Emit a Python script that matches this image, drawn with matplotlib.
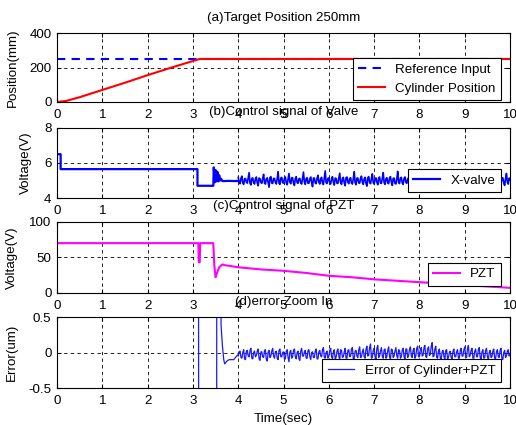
import numpy as np
from matplotlib import pyplot as plt

plt.rcParams['font.family'] = ['Liberation Sans', 'DejaVu Sans']
plt.rcParams['font.size'] = 9.6

# (a) position
pos_t = [0, 0.2, 0.5, 1, 1.5, 2, 2.5, 3, 3.15, 10]
pos_y = [0, 6, 28, 70, 112, 156, 198, 238, 250, 250]
ref_t = [0, 10]
ref_y = [250, 250]

# (b) valve signal, step part then noisy part
valve_t0 = [0, 0.08, 0.08, 3.1, 3.1, 3.45, 3.46, 3.48, 3.5, 3.52, 3.54, 3.56, 3.58,
            3.6, 3.62, 3.65, 3.7, 3.8, 3.9, 4.0]
valve_y0 = [6.5, 6.5, 5.65, 5.65, 4.7, 4.7, 5.75, 4.9, 5.6, 4.95, 5.5, 4.95, 5.3,
            5.0, 5.1, 4.97, 4.97, 4.98, 4.97, 4.97]
valve_noise = [
    5.18, 4.82, 5.25, 4.78, 5.12, 4.85, 5.45, 4.75, 5.15, 4.80,
    5.20, 4.70, 5.10, 4.84, 5.35, 4.80, 5.15, 4.62, 5.22, 4.83,
    5.12, 4.80, 5.50, 4.78, 5.18, 4.85, 5.20, 4.76, 5.40, 4.82,
    5.15, 4.72, 5.22, 4.84, 5.12, 4.80, 5.48, 4.78, 5.16, 4.85,
    5.20, 4.65, 5.14, 4.82, 5.30, 4.80, 5.18, 4.77, 5.55, 4.83,
    5.15, 4.80, 5.22, 4.74, 5.12, 4.84, 5.42, 4.78, 5.18, 4.70,
    5.20, 4.82, 5.16, 4.80, 5.50, 4.76, 5.14, 4.84, 5.25, 4.78,
    5.18, 4.68, 5.22, 4.82, 5.38, 4.80, 5.15, 4.76, 5.20, 4.84,
    5.45, 4.78, 5.16, 4.82, 5.22, 4.72, 5.14, 4.80, 5.52, 4.83,
    5.18, 4.78, 5.20, 4.84, 5.15, 4.66, 5.40, 4.80, 5.22, 4.82,
    5.16, 4.78, 5.48, 4.84, 5.20, 4.76, 5.15, 4.82, 5.35, 4.74,
    5.22, 4.80, 5.18, 4.84, 5.55, 4.78, 5.16, 4.70, 5.20, 4.82,
    5.42, 4.80, 5.15, 4.84, 5.22, 4.76, 5.18, 4.82, 5.50, 4.78,
    5.20, 4.68, 5.16, 4.84, 5.38, 4.80, 5.22, 4.82, 5.15, 4.76,
    5.45, 4.82, 5.18, 4.78, 5.22, 4.84, 5.16, 4.72, 5.40, 4.80,
    5.05]
# samples between the ones above
valve_mid = [
    4.88, 5.12, 4.86, 5.10, 4.90, 5.14, 4.84, 5.12, 4.88, 5.10,
    4.86, 5.14, 4.90, 5.12, 4.85, 5.10, 4.88, 5.16, 4.86, 5.12,
    4.90, 5.10, 4.84, 5.14, 4.88, 5.12, 4.86, 5.10, 4.90, 5.16,
    4.85, 5.12, 4.88, 5.10, 4.86, 5.14, 4.90, 5.12, 4.84, 5.10,
    4.88, 5.14, 4.86, 5.12, 4.90, 5.10, 4.85, 5.16, 4.88, 5.12,
    4.86, 5.10, 4.90, 5.14, 4.84, 5.12, 4.88, 5.10, 4.86, 5.16,
    4.90, 5.12, 4.85, 5.10, 4.88, 5.14, 4.86, 5.12, 4.90, 5.10,
    4.84, 5.16, 4.88, 5.12, 4.86, 5.10, 4.90, 5.14, 4.85, 5.12,
    4.88, 5.10, 4.86, 5.16, 4.90, 5.12, 4.84, 5.10, 4.88, 5.14,
    4.86, 5.12, 4.90, 5.10, 4.85, 5.16, 4.88, 5.12, 4.86, 5.10,
    4.90, 5.14, 4.84, 5.12, 4.88, 5.10, 4.86, 5.16, 4.90, 5.12,
    4.85, 5.10, 4.88, 5.14, 4.86, 5.12, 4.90, 5.10, 4.84, 5.16,
    4.88, 5.12, 4.86, 5.10, 4.90, 5.14, 4.85, 5.12, 4.88, 5.10,
    4.86, 5.16, 4.90, 5.12, 4.84, 5.10, 4.88, 5.14, 4.86, 5.12,
    4.90, 5.10, 4.85, 5.16, 4.88, 5.12, 4.86, 5.10, 4.90, 5.14]

# (c) PZT signal
pzt_t = [0, 3.12, 3.13, 3.15, 3.16, 3.45, 3.47, 3.5, 3.53, 3.58, 3.65, 3.7,
         4, 4.5, 5, 5.5, 6, 6.5, 7, 7.5, 8, 8.5, 9, 9.5, 10]
pzt_y = [70, 70, 43, 43, 70, 70, 40, 22, 28, 36, 40, 39,
         36, 33, 31, 28, 24, 22, 19, 17, 15, 13, 11, 9, 7]

# (d) error, transient then noisy part
err_t0 = [0, 3.12, 3.13, 3.52, 3.53, 3.6, 3.62, 3.65, 3.68, 3.7, 3.75, 3.8, 3.9, 3.95, 4.0]
err_y0 = [5, 5, -5, -5, 5, 5, 0.4, 0.1, -0.1, -0.16, -0.12, -0.1, -0.1, -0.06, -0.03]
err_noise = [
    -0.05, 0.02, -0.08, 0.04, -0.10, 0.03, -0.06, 0.06, -0.09, 0.02,
    -0.04, 0.05, -0.11, 0.01, -0.07, 0.04, -0.12, 0.03, -0.05, 0.06,
    -0.08, 0.02, -0.10, 0.05, -0.06, 0.01, -0.09, 0.04, -0.13, 0.03,
    -0.06, 0.05, -0.09, 0.02, -0.11, 0.06, -0.05, 0.03, -0.08, 0.04,
    -0.10, 0.01, -0.07, 0.05, -0.09, 0.03, -0.06, 0.07, -0.08, 0.02,
    -0.05, 0.06, -0.09, 0.04, -0.07, 0.05, -0.10, 0.03, -0.06, 0.06,
    -0.08, 0.04, -0.05, 0.07, -0.09, 0.03, -0.07, 0.08, -0.06, 0.05,
    -0.08, 0.09, -0.04, 0.12, -0.07, 0.06, -0.09, 0.10, -0.05, 0.07,
    -0.08, 0.05, -0.06, 0.08, -0.09, 0.04, -0.05, 0.07, -0.08, 0.03,
    -0.06, 0.06, -0.09, 0.05, -0.04, 0.08, -0.07, 0.06, -0.05, 0.09,
    -0.06, 0.07, -0.04, 0.10, -0.07, 0.08, -0.03, 0.14, -0.05, 0.09,
    -0.08, 0.05, -0.09, 0.03, -0.10, 0.04, -0.07, 0.02, -0.09, 0.05,
    -0.06, 0.04, -0.08, 0.06, -0.05, 0.08, -0.07, 0.10, -0.04, 0.06,
    -0.08, 0.05, -0.06, 0.07, -0.09, 0.04, -0.07, 0.06, -0.10, 0.03,
    -0.06, 0.05, -0.09, 0.04, -0.07, 0.06, -0.10, 0.03, -0.05, 0.04,
    -0.02]
err_mid = [
    0.01, -0.07, 0.00, -0.09, 0.02, -0.05, 0.03, -0.08, 0.00, -0.06,
    0.02, -0.09, 0.01, -0.06, 0.03, -0.10, 0.00, -0.07, 0.02, -0.05,
    0.01, -0.08, 0.03, -0.06, 0.00, -0.09, 0.02, -0.07, 0.01, -0.08,
    0.03, -0.06, 0.00, -0.09, 0.02, -0.05, 0.01, -0.08, 0.03, -0.06,
    0.00, -0.07, 0.02, -0.09, 0.01, -0.05, 0.04, -0.07, 0.00, -0.08,
    0.03, -0.06, 0.01, -0.09, 0.02, -0.05, 0.04, -0.07, 0.01, -0.08,
    0.03, -0.06, 0.05, -0.09, 0.02, -0.05, 0.04, -0.07, 0.01, -0.06,
    0.05, -0.05, 0.07, -0.08, 0.03, -0.06, 0.06, -0.07, 0.02, -0.05,
    0.04, -0.08, 0.03, -0.06, 0.05, -0.07, 0.02, -0.05, 0.04, -0.08,
    0.03, -0.06, 0.05, -0.07, 0.04, -0.05, 0.03, -0.08, 0.06, -0.06,
    0.04, -0.05, 0.07, -0.06, 0.05, -0.04, 0.09, -0.06, 0.05, -0.07,
    0.02, -0.08, 0.01, -0.06, 0.03, -0.09, 0.00, -0.07, 0.02, -0.06,
    0.01, -0.08, 0.03, -0.05, 0.04, -0.07, 0.05, -0.06, 0.03, -0.08,
    0.02, -0.06, 0.04, -0.07, 0.01, -0.08, 0.03, -0.06, 0.00, -0.07,
    0.02, -0.08, 0.01, -0.06, 0.03, -0.09, 0.00, -0.07, 0.02, -0.05]

# interleave the two sample sets on a 0.02 s grid from 4 s to 10 s
n = len(valve_noise)
noise_t = np.linspace(4.0, 10.0, 2 * n - 1)
valve_n = np.empty(2 * n - 1)
valve_n[0::2] = valve_noise
valve_n[1::2] = valve_mid
err_n = np.empty(2 * n - 1)
err_n[0::2] = err_noise
err_n[1::2] = err_mid

err_t = np.concatenate([err_t0, noise_t])
err_y = np.concatenate([err_y0, err_n])

fig = plt.figure(figsize=(5.16, 4.25), dpi=100)
L, W = 0.1105, 0.878
ax1 = fig.add_axes([L, 0.760, W, 0.162])
ax2 = fig.add_axes([L, 0.534, W, 0.165])
ax3 = fig.add_axes([L, 0.311, W, 0.167])
ax4 = fig.add_axes([L, 0.087, W, 0.167])

ax1.plot(ref_t, ref_y, '--', color='#0000ff', lw=1.5, dashes=(4, 3), label='Reference Input')
ax1.plot(pos_t, pos_y, color='#ff0000', lw=1.5, label='Cylinder Position')
ax1.set_ylim(0, 400)
ax1.set_yticks([0, 200, 400])
ax1.set_ylabel('Position(mm)')
ax1.set_title('(a)Target Position 250mm', fontsize=9.6, pad=9)
ax1.legend(loc='lower right', bbox_to_anchor=(0.98, 0.03), borderaxespad=0)
ax1.yaxis.set_label_coords(-0.085, 0.5)

ax2.plot(valve_t0, valve_y0, color='#0000ff', lw=1.6, label='X-valve')
ax2.plot(noise_t, valve_n, color='#0000ff', lw=1.2)
ax2.set_ylim(4, 8)
ax2.set_yticks([4, 6, 8])
ax2.set_ylabel('Voltage(V)')
ax2.set_title('(b)Control signal of Valve', fontsize=9.6, pad=9)
ax2.legend(loc='lower right', bbox_to_anchor=(0.98, 0.086), borderaxespad=0)
ax2.yaxis.set_label_coords(-0.055, 0.5)

ax3.plot(pzt_t, pzt_y, color='#ff00ff', lw=1.5, label='PZT')
ax3.set_ylim(0, 100)
ax3.set_yticks([0, 50, 100])
ax3.set_ylabel('Voltage(V)')
ax3.set_title('(c)Control signal of PZT', fontsize=9.6, pad=9)
ax3.legend(loc='lower right', bbox_to_anchor=(0.98, 0.1), borderaxespad=0)
ax3.yaxis.set_label_coords(-0.086, 0.5)

ax4.plot(err_t, err_y, color='#1a1aff', lw=0.9, label='Error of Cylinder+PZT')
ax4.set_ylim(-0.5, 0.5)
ax4.set_yticks([-0.5, 0, 0.5])
ax4.set_yticklabels(['-0.5', '0', '0.5'])
ax4.set_ylabel('Error(um)')
ax4.set_xlabel('Time(sec)', labelpad=4)
ax4.set_title('(d)error Zoom In', fontsize=9.6, pad=9)
ax4.legend(loc='lower right', bbox_to_anchor=(0.98, 0.085), borderaxespad=0)
ax4.yaxis.set_label_coords(-0.087, 0.5)

for ax in [ax1, ax2, ax3, ax4]:
    ax.set_xlim(0, 10)
    ax.set_xticks(range(11))
    ax.grid(True, color='black', linestyle=(0, (4, 4)), lw=0.6)
    ax.tick_params(direction='in', length=3, top=True, right=True, labelsize=9.6)
    ax.tick_params(axis='x', pad=5)
    ax.tick_params(axis='y', pad=4)
    for s in ax.spines.values():
        s.set_linewidth(0.8)
    leg = ax.get_legend()
    leg.get_frame().set_edgecolor('black')
    leg.get_frame().set_linewidth(0.8)
    leg.get_frame().set_alpha(1)
    leg.get_frame().set_boxstyle('square', pad=0)

fig.savefig('out.png', dpi=100)
